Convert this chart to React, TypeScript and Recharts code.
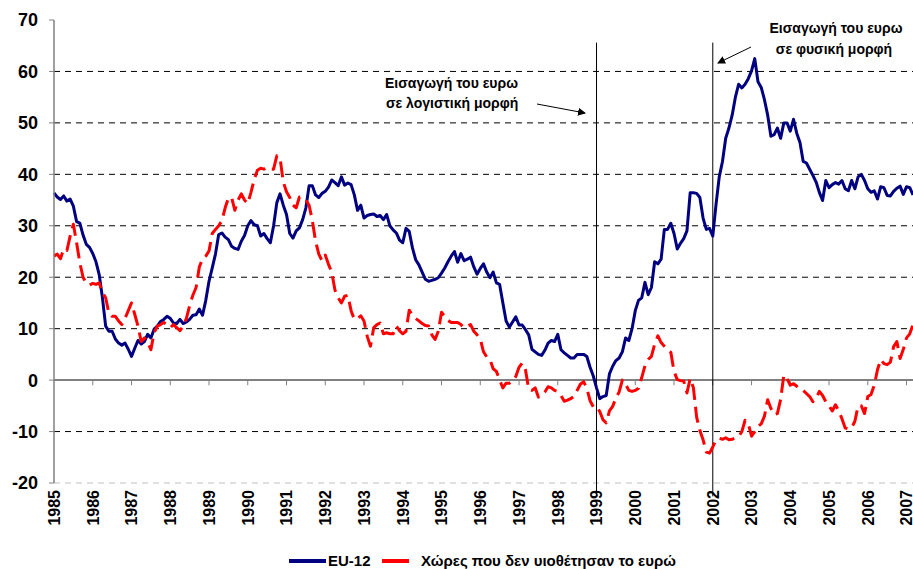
import React from 'react';
import { LineChart, Line, XAxis, YAxis, ReferenceLine } from 'recharts';

// monthly values, Jan 1985 .. Mar 2007
const EU12 = [
  36.4, 35.6, 35.1, 35.8, 34.8, 35.2, 33.8, 30.8, 30.5, 28.2, 26.4, 25.8, // 1985
  24.6, 23.0, 20.5, 16.0, 10.5, 9.5, 9.5, 8.0, 7.2, 6.8, 7.2, 6.0, // 1986
  4.6, 6.2, 7.7, 7.0, 7.5, 8.9, 8.2, 9.9, 10.5, 11.4, 11.8, 12.4, // 1987
  12.0, 11.1, 11.0, 11.8, 11.0, 11.3, 11.8, 12.6, 12.7, 13.8, 12.6, 15.5, // 1988
  19.2, 21.8, 24.5, 28.3, 28.6, 27.8, 27.3, 26.0, 25.6, 25.4, 27.0, 28.1, // 1989
  30.0, 31.0, 30.2, 30.0, 28.0, 28.5, 27.5, 26.7, 30.0, 34.5, 36.2, 34.0, // 1990
  32.2, 28.5, 27.6, 29.0, 29.6, 31.2, 33.5, 37.8, 37.8, 36.0, 35.5, 36.3, // 1991
  36.7, 37.5, 38.9, 38.4, 37.8, 39.5, 37.9, 38.3, 38.0, 36.0, 33.0, 34.0, // 1992
  31.5, 32.0, 32.2, 32.3, 31.8, 32.0, 31.2, 32.2, 30.0, 29.2, 28.6, 27.2, // 1993
  26.7, 29.5, 28.9, 25.7, 23.4, 22.4, 21.0, 19.6, 19.2, 19.4, 19.6, 19.9, // 1994
  20.8, 21.8, 23.0, 24.1, 25.0, 22.9, 24.6, 23.2, 23.5, 23.9, 22.0, 20.6, // 1995
  21.7, 22.6, 21.0, 19.9, 21.0, 18.9, 18.6, 15.0, 11.5, 10.3, 11.3, 12.3, // 1996
  10.7, 10.7, 9.8, 8.8, 6.0, 5.5, 5.0, 4.8, 5.8, 7.2, 7.7, 7.5, // 1997
  8.9, 5.9, 5.3, 4.8, 4.3, 4.3, 5.0, 5.0, 5.0, 4.6, 2.5, 0.8, // 1998
  -1.5, -3.6, -3.2, -3.0, 1.2, 2.7, 3.8, 4.3, 5.5, 8.2, 7.7, 10.0, // 1999
  13.5, 15.5, 16.0, 19.0, 16.6, 18.0, 23.0, 22.6, 23.5, 29.3, 29.3, 30.5, // 2000
  28.5, 25.5, 26.6, 27.5, 29.0, 36.4, 36.4, 36.3, 35.5, 31.5, 29.3, 29.5, // 2001
  28.0, 34.1, 39.5, 42.5, 47.0, 49.0, 51.5, 55.0, 57.5, 56.8, 57.5, 58.6, // 2002
  60.1, 62.5, 58.0, 56.9, 54.5, 51.5, 47.4, 47.7, 49.0, 47.0, 50.0, 50.0, // 2003
  48.4, 50.7, 48.0, 46.2, 42.5, 42.2, 41.0, 39.8, 38.5, 36.5, 34.9, 38.8, // 2004
  37.4, 38.0, 38.4, 38.1, 38.8, 37.2, 36.8, 38.8, 37.2, 39.5, 40.0, 38.8, // 2005
  37.2, 36.5, 36.8, 35.2, 37.6, 37.4, 35.9, 35.8, 36.7, 37.3, 37.7, 36.1, // 2006
  37.6, 37.4, 36.0, // 2007
];

const NON_EURO = [
  24.1, 24.5, 23.6, 25.5, 25.2, 28.0, 30.3, 26.7, 22.8, 20.0, 18.8, 18.5, // 1985
  18.8, 18.6, 18.9, 17.0, 16.0, 13.0, 12.4, 12.4, 11.5, 10.8, 12.0, 13.5, // 1986
  15.0, 12.8, 10.5, 7.5, 8.2, 7.5, 5.9, 9.2, 10.5, 10.8, 11.2, 10.8, // 1987
  10.2, 10.8, 10.2, 9.6, 10.5, 12.0, 14.5, 16.5, 18.0, 22.0, 23.6, 24.1, // 1988
  25.1, 28.5, 29.3, 30.0, 31.0, 33.5, 35.4, 35.5, 33.0, 35.0, 36.2, 35.0, // 1989
  34.3, 36.5, 39.0, 40.8, 41.2, 41.0, 41.3, 41.0, 41.0, 43.6, 43.2, 38.5, // 1990
  36.6, 35.5, 34.0, 33.5, 35.6, 35.5, 35.0, 34.0, 31.0, 27.0, 24.5, 23.2, // 1991
  24.3, 22.5, 21.0, 17.5, 16.0, 15.0, 16.3, 16.5, 13.5, 11.8, 12.0, 12.5, // 1992
  11.5, 8.5, 6.6, 10.2, 10.8, 11.1, 9.0, 9.2, 9.0, 9.0, 10.5, 9.6, // 1993
  9.0, 9.5, 13.6, 12.6, 12.0, 11.5, 11.0, 10.6, 10.5, 8.8, 7.9, 9.5, // 1994
  13.2, 12.4, 11.6, 11.2, 11.2, 11.2, 10.8, 10.2, 10.5, 10.8, 9.5, 8.8, // 1995
  8.0, 5.5, 4.5, 4.0, 2.2, 1.7, 0.0, -1.5, -0.6, -0.6, -0.2, 0.7, // 1996
  2.5, 3.3, 2.0, -1.8, -2.0, -1.5, -3.3, -3.0, -2.3, -1.3, -1.5, -2.0, // 1997
  -2.2, -3.0, -4.1, -3.9, -3.6, -3.2, -2.0, -0.8, -0.3, -1.6, -4.0, -5.2, // 1998
  -5.1, -6.1, -7.7, -8.3, -6.0, -5.1, -3.5, -2.3, 0.0, -0.8, -2.0, -2.2, // 1999
  -2.0, -1.6, 0.5, 2.8, 4.0, 4.6, 7.0, 8.6, 7.3, 6.6, 6.0, 5.4, // 2000
  1.7, 0.1, -0.1, -0.2, -2.5, 0.3, -1.5, -7.2, -9.8, -11.6, -14.0, -14.2, // 2001
  -13.0, -11.6, -11.3, -11.5, -11.2, -11.6, -11.5, -11.2, -11.0, -10.0, -7.8, -8.5, // 2002
  -10.9, -10.0, -9.0, -8.5, -7.0, -3.8, -5.5, -6.7, -6.5, -3.8, 1.0, 0.3, // 2003
  -1.0, -0.7, -1.2, -1.8, -2.0, -2.6, -3.2, -4.2, -3.5, -2.2, -3.0, -4.2, // 2004
  -5.0, -6.0, -4.8, -6.0, -7.5, -9.3, -9.5, -9.3, -8.0, -5.0, -5.0, -6.5, // 2005
  -3.2, -2.8, -1.0, 2.0, 4.0, 3.2, 3.0, 3.5, 6.5, 7.5, 4.2, 6.0, // 2006
  8.2, 9.0, 10.8, // 2007
];

const YEARS = Array.from({ length: 23 }, (_, i) => 1985 + i);
const YEAR_TICKS = YEARS.map((_, i) => i * 12);
const Y_TICKS = [-20, -10, 0, 10, 20, 30, 40, 50, 60, 70];
const GRID_VALUES = [60, 50, 40, 30, 20, 10, -10];
const EVENT_MONTHS = [168, 204]; // Jan 1999, Jan 2002

const data = EU12.map((v, i) => ({ m: i, eu: v, non: NON_EURO[i] }));

const FONT = '"Liberation Sans", Arial, sans-serif';

const YearTick = ({ x, y, payload }: any) => (
  <text
    x={x}
    y={y}
    transform={`rotate(-90 ${x} ${y})`}
    textAnchor="end"
    dy="0.36em"
    fontSize={16}
    fontWeight="bold"
    fontFamily={FONT}
    fill="#000"
  >
    {1985 + Math.round(payload.value / 12)}
  </text>
);

export default function App() {
  return (
    <div style={{ position: 'absolute', left: 0, top: 0, width: 913, height: 569, background: '#fff' }}>
      <LineChart width={913} height={569} data={data} margin={{ top: 20, right: 0, bottom: 0, left: 0 }}>
        {GRID_VALUES.map((v) => (
          <ReferenceLine key={v} y={v} stroke="#000" strokeWidth={1} strokeDasharray="6 5" />
        ))}
        <ReferenceLine y={-20} stroke="#c0c0c0" strokeWidth={1} strokeDasharray="6 5" />
        <ReferenceLine y={0} stroke="#808080" strokeWidth={2} />
        {YEAR_TICKS.slice(1).map((m) => (
          <ReferenceLine
            key={'t' + m}
            segment={[{ x: m, y: 0 }, { x: m, y: -1 }]}
            stroke="#808080"
            strokeWidth={1}
          />
        ))}
        {EVENT_MONTHS.map((m) => (
          <ReferenceLine
            key={'e' + m}
            segment={[{ x: m, y: 65.6 }, { x: m, y: -22.6 }]}
            ifOverflow="visible"
            stroke="#000"
            strokeWidth={1}
          />
        ))}
        <XAxis
          dataKey="m"
          type="number"
          domain={[0, 266]}
          ticks={YEAR_TICKS}
          interval={0}
          axisLine={false}
          tickLine={false}
          tickSize={0}
          tickMargin={7}
          height={86}
          tick={<YearTick />}
        />
        <YAxis
          domain={[-20, 70]}
          ticks={Y_TICKS}
          interval={0}
          width={54}
          axisLine={{ stroke: '#808080', strokeWidth: 1.5 }}
          tickLine={{ stroke: '#808080' }}
          tickSize={5}
          tickMargin={11}
          tick={{ fill: '#000', fontSize: 18, fontWeight: 'bold', fontFamily: FONT }}
        />
        <Line
          dataKey="eu"
          type="linear"
          stroke="#000080"
          strokeWidth={3}
          strokeLinejoin="round"
          dot={false}
          isAnimationActive={false}
        />
        <Line
          dataKey="non"
          type="linear"
          stroke="#ff0000"
          strokeWidth={3}
          strokeDasharray="16 7"
          strokeLinejoin="round"
          dot={false}
          isAnimationActive={false}
        />
      </LineChart>

      <svg
        width={913}
        height={569}
        style={{ position: 'absolute', left: 0, top: 0, pointerEvents: 'none' }}
        fontFamily={FONT}
        fontWeight="bold"
      >
        <defs>
          <marker id="ah" markerWidth="8" markerHeight="8" refX="7" refY="4" orient="auto" markerUnits="userSpaceOnUse">
            <path d="M0,0 L8,4 L0,8 z" fill="#000" />
          </marker>
        </defs>
        <text x={385} y={88} fontSize={14}>Εισαγωγή του ευρω</text>
        <text x={386} y={108} fontSize={14}>σε λογιστική μορφή</text>
        <line x1={537} y1={104} x2={585} y2={113} stroke="#000" strokeWidth={1} markerEnd="url(#ah)" />

        <text x={836} y={33} fontSize={14} textAnchor="middle">Εισαγωγή του ευρω</text>
        <text x={834} y={54} fontSize={14} textAnchor="middle">σε φυσική μορφή</text>
        <line x1={751} y1={47} x2={718} y2={63} stroke="#000" strokeWidth={1} markerEnd="url(#ah)" />

        <line x1={289} y1={561} x2={326} y2={561} stroke="#000080" strokeWidth={4} />
        <text x={328} y={566} fontSize={15}>EU-12</text>
        <line x1={382} y1={561} x2={409} y2={561} stroke="#ff0000" strokeWidth={4} />
        <text x={421} y={566} fontSize={15}>Χώρες που δεν υιοθέτησαν το ευρώ</text>
      </svg>
    </div>
  );
}
